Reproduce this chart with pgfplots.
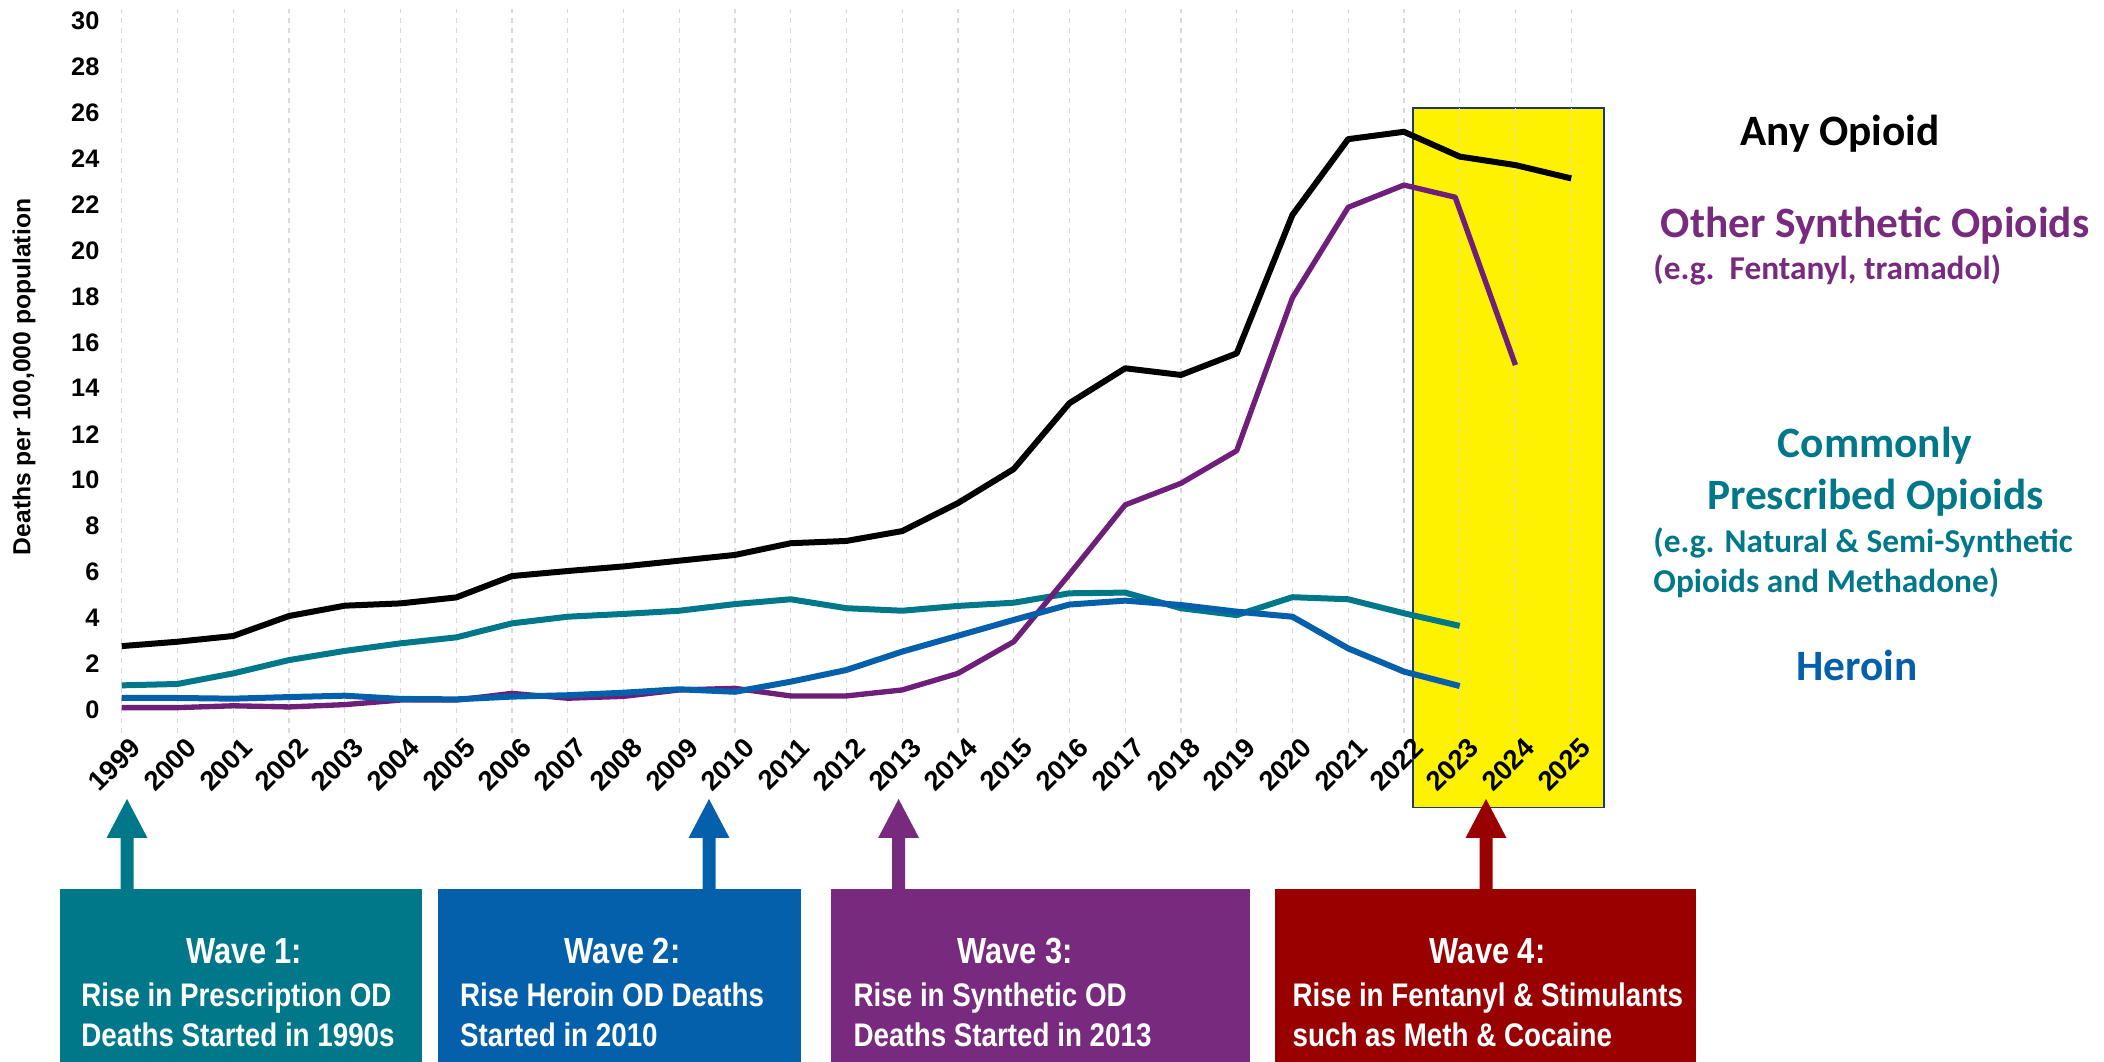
\documentclass[border=0pt]{standalone}
\usepackage{pgfplots}
\pgfplotsset{compat=1.18}
\usepackage{fontspec}
\setmainfont{Liberation Sans}
\newfontfamily\narrow{Liberation Sans}[FakeStretch=0.85]
\newfontfamily\carlito{Carlito}
\definecolor{cteal}{HTML}{00788A}
\definecolor{cblue}{HTML}{0560AB}
\definecolor{cpurple}{HTML}{772A7E}
\definecolor{cpurpleline}{HTML}{6E1F7A}
\definecolor{cred}{HTML}{990000}
\definecolor{cnavy}{HTML}{1F3A68}
\newcommand\wavearrow[2]{\fill[#2] ({#1-6.5},892) -- ({#1-6.5},838) -- ({#1-20.5},838) -- (#1,799) -- ({#1+20.5},838) -- ({#1+6.5},838) -- ({#1+6.5},892) -- cycle;}
\begin{document}
\begin{tikzpicture}
\begin{scope}[x=0.3pt,y=-0.3pt]
\useasboundingbox (0,0) rectangle (2104,1062);
\fill[yellow] (1412.7,108.3) rectangle (1604.3,807.5);
\draw[cnavy, line width=0.5pt] (1412.7,108.3) rectangle (1604.3,807.5);
\end{scope}
\begin{axis}[
  at={(36.51pt,-219.80pt)}, anchor=south west,
  scale only axis, width=434.85pt, height=216.97pt,
  xmin=1999, xmax=2025, ymin=-1, ymax=30.5,
  xtick={1999,2000,...,2025}, ytick={0,2,...,30},
  axis line style={draw=none}, major tick length=0pt,
  xmajorgrids, ymajorgrids=false,
  grid style={dash pattern=on 1.5pt off 1.5pt, draw=gray!30, line width=0.4pt},
  clip=false,
  /pgf/number format/assume math mode=true,
  /pgf/number format/1000 sep={},
  yticklabel style={font=\bfseries\fontsize{7.6}{9}\selectfont, anchor=east, inner sep=0pt, xshift=-6.5pt},
  xticklabel style={font=\bfseries\fontsize{8.2}{9}\selectfont, rotate=45, anchor=east, inner sep=0pt, xshift=1.0pt, yshift=-5.3pt},
]
\addplot[black, line width=1.8pt, line join=round] coordinates {
(1999,2.77) (2000,2.96) (2001,3.21) (2002,4.08) (2003,4.53) (2004,4.63) (2005,4.89)
(2006,5.82) (2007,6.04) (2008,6.24) (2009,6.49) (2010,6.74) (2011,7.25) (2012,7.35)
(2013,7.78) (2014,9.00) (2015,10.48) (2016,13.35) (2017,14.87) (2018,14.58) (2019,15.52)
(2020,21.55) (2021,24.85) (2022,25.17) (2023,24.09) (2024,23.72) (2025,23.14)};
\addplot[cteal, line width=1.8pt, line join=round] coordinates {
(1999,1.06) (2000,1.12) (2001,1.58) (2002,2.16) (2003,2.56) (2004,2.89) (2005,3.15)
(2006,3.76) (2007,4.05) (2008,4.17) (2009,4.31) (2010,4.60) (2011,4.81) (2012,4.42)
(2013,4.31) (2014,4.52) (2015,4.66) (2016,5.07) (2017,5.10) (2018,4.42) (2019,4.12)
(2020,4.90) (2021,4.81) (2022,4.20) (2023,3.65)};
\addplot[cpurpleline, line width=1.6pt, line join=round] coordinates {
(1999,0.09) (2000,0.09) (2001,0.17) (2002,0.12) (2003,0.22) (2004,0.42) (2005,0.42)
(2006,0.71) (2007,0.50) (2008,0.58) (2009,0.86) (2010,0.93) (2011,0.60) (2012,0.60)
(2013,0.86) (2014,1.58) (2015,2.96) (2016,5.90) (2017,8.92) (2018,9.86) (2019,11.28)
(2020,17.94) (2021,21.88) (2022,22.85) (2022.92,22.32) (2024,15.01)};
\addplot[cblue, line width=1.8pt, line join=round] coordinates {
(1999,0.51) (2000,0.51) (2001,0.48) (2002,0.55) (2003,0.61) (2004,0.47) (2005,0.45)
(2006,0.57) (2007,0.63) (2008,0.74) (2009,0.89) (2010,0.78) (2011,1.22) (2012,1.73)
(2013,2.53) (2014,3.22) (2015,3.91) (2016,4.58) (2017,4.75) (2018,4.56) (2019,4.27)
(2020,4.05) (2021,2.67) (2022,1.66) (2023,1.03)};
\end{axis}
\begin{scope}[x=0.3pt,y=-0.3pt]
% y label
\node[rotate=90, font=\bfseries\fontsize{7.4}{9}\selectfont] at (24,377) {Deaths per 100,000 population};
% right-side labels
\node[anchor=base, font=\carlito\bfseries\fontsize{13}{15}\selectfont] at (1840,145.3) {Any Opioid};
\node[anchor=base, text=cpurple, font=\carlito\bfseries\fontsize{13}{15}\selectfont] at (1875,237.1) {Other Synthetic Opioids};
\node[anchor=base west, inner sep=0pt, text=cpurple, font=\carlito\bfseries\fontsize{10}{12}\selectfont] at (1652.8,280) {(e.g.\ \ Fentanyl, tramadol)};
\node[anchor=base, text=cteal, font=\carlito\bfseries\fontsize{13}{15}\selectfont] at (1875,457.6) {Commonly};
\node[anchor=base, text=cteal, font=\carlito\bfseries\fontsize{13}{15}\selectfont] at (1875.6,509.4) {Prescribed Opioids};
\node[anchor=base west, inner sep=0pt, text=cteal, font=\carlito\bfseries\fontsize{10}{12}\selectfont] at (1652.8,552.7) {(e.g. Natural \& Semi-Synthetic};
\node[anchor=base west, inner sep=0pt, text=cteal, font=\carlito\bfseries\fontsize{10}{12}\selectfont] at (1652.8,592.2) {Opioids and Methadone)};
\node[anchor=base, text=cblue, font=\carlito\bfseries\fontsize{13}{15}\selectfont] at (1856.7,680.8) {Heroin};
% wave arrows
\wavearrow{127}{cteal}
\wavearrow{709}{cblue}
\wavearrow{898.6}{cpurple}
\wavearrow{1486}{cred}
% wave boxes
\fill[cteal] (60,889) rectangle (422,1062);
\fill[cblue] (438,889) rectangle (801,1062);
\fill[cpurple] (831,889) rectangle (1250,1062);
\fill[cred] (1275,889) rectangle (1696,1062);
\tikzset{wt/.style={anchor=base, text=white, inner sep=0pt, font=\narrow\bfseries\fontsize{10.9}{12}\selectfont},
         wl/.style={anchor=base west, text=white, inner sep=0pt, font=\narrow\bfseries\fontsize{9.8}{12}\selectfont}}
\node[wt] at (244.5,964) {Wave 1:};
\node[wl] at (80.7,1006.7) {Rise in Prescription OD};
\node[wl] at (80.7,1046.7) {Deaths Started in 1990s};
\node[wt] at (622.6,964) {Wave 2:};
\node[wl] at (459.5,1006.7) {Rise Heroin OD Deaths};
\node[wl] at (459.5,1046.7) {Started in 2010};
\node[wt] at (1015,964) {Wave 3:};
\node[wl] at (853,1006.7) {Rise in Synthetic OD};
\node[wl] at (853,1046.7) {Deaths Started in 2013};
\node[wt] at (1487.6,964) {Wave 4:};
\node[wl] at (1292,1006.7) {Rise in Fentanyl \& Stimulants};
\node[wl] at (1292,1046.7) {such as Meth \& Cocaine};
\end{scope}
\end{tikzpicture}
\end{document}
